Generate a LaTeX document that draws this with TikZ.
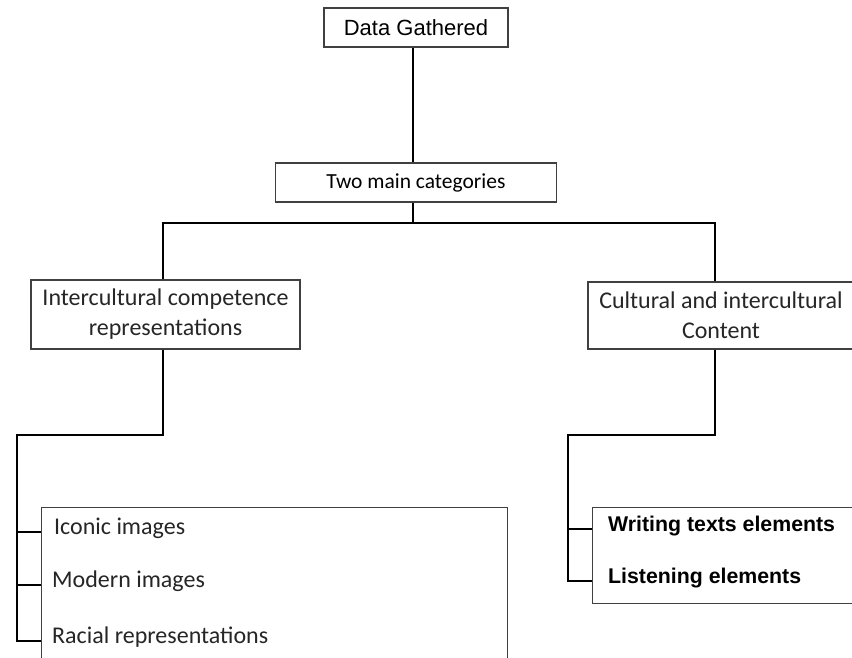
\documentclass[tikz,border=0pt]{standalone}
\usepackage{fontspec}
\setmainfont{Carlito}
\newfontfamily\arialfont{Liberation Sans}
\usetikzlibrary{positioning, calc}

\begin{document}
\begin{tikzpicture}[
  x=1pt, y=-1pt, font=\fontsize{24}{30}\selectfont,
  box/.style={draw=black!75, line width=1.1pt, inner sep=0pt, fill=white},
  item/.style={anchor=mid west, inner sep=0pt, text=black!85},
  bolditem/.style={item, text=black, font=\arialfont\bfseries\fontsize{21.3}{25}\selectfont},
  link/.style={line width=1.8pt}
]
\useasboundingbox (0,0) rectangle (852,658);
\clip (0,0) rectangle (852,658);

\node[box, minimum width=184pt, minimum height=39pt, font=\arialfont\fontsize{22}{26}\selectfont] (data) at (416,27.5) {Data Gathered};
\node[box, minimum width=281pt, minimum height=39pt, font=\fontsize{21.5}{26}\selectfont] (two) at (416,182.5) {Two main categories};
\node[box, minimum width=269pt, minimum height=69pt, align=center, text=black!85] (icr) at (165.5,314.5) {Intercultural competence\\representations};
\node[box, minimum width=266pt, minimum height=67pt, align=center, text=black!85] (cic) at (721,315.5) {Cultural and intercultural\\Content};

\coordinate (split) at (413,223);
\draw[link] (data.south -| split) -- (two.north -| split);
\draw[link] (two.south -| split) -- (split);
\coordinate (ltop) at ($(icr.north)+(-2.5,0)$);
\coordinate (rtop) at ($(cic.north)+(-6,0)$);
\draw[link] (ltop) |- (split) -| (rtop);

% left list
\node[box, minimum width=466pt, minimum height=180pt, anchor=north west] (ilist) at (41,507) {};
\node[item] (iconic) at (54,532) {Iconic images};
\node[item] (modern) at (52,585) {Modern images};
\node[item] (racial) at (52,641) {Racial representations};
\coordinate (lbend) at (17,435);
\coordinate (lend) at (17,641);
\draw[link] (ltop |- icr.south) |- (lbend) -- (lend) -- (lend -| ilist.west);
\draw[link] (lbend |- iconic.mid west) -- (iconic.mid west -| ilist.west);
\draw[link] (lbend |- modern.mid west) -- (modern.mid west -| ilist.west);

% right list
\node[box, minimum width=290pt, minimum height=96pt, anchor=north west] (clist) at (592,507) {};
\node[bolditem] (writing) at (608,529) {Writing texts elements};
\node[bolditem] (listening) at (608,581) {Listening elements};
\coordinate (rbend) at (568,435);
\draw[link] (rtop |- cic.south) |- (rbend) |- (listening.mid west -| clist.west);
\draw[link] (rbend |- writing.mid west) -- (writing.mid west -| clist.west);

\end{tikzpicture}
\end{document}
